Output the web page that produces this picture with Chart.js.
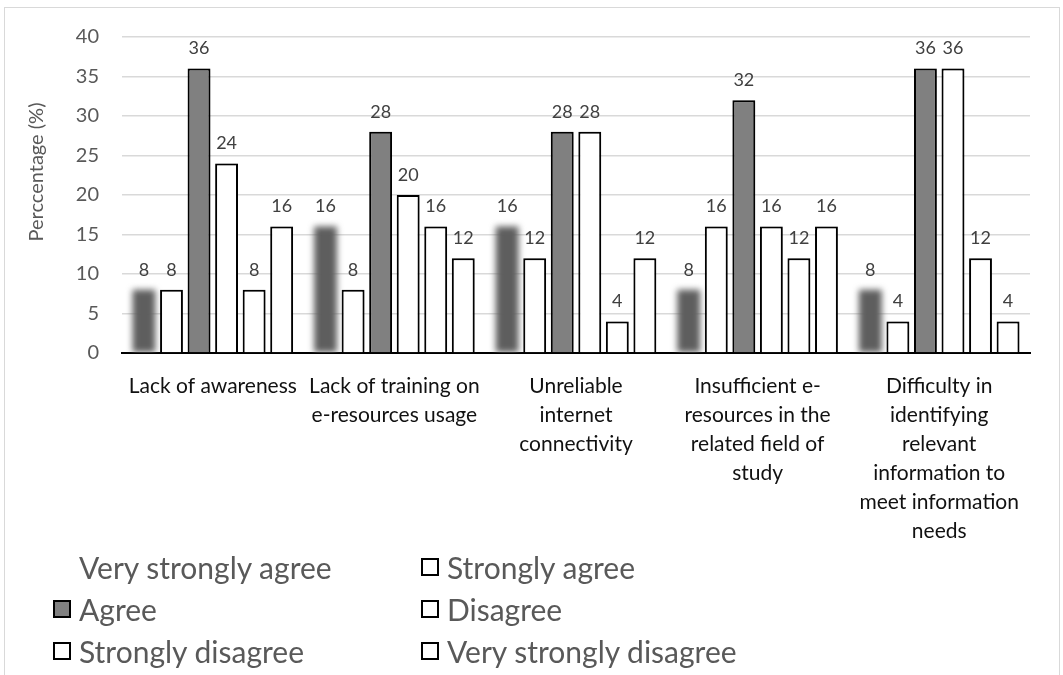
<!DOCTYPE html>
<html>
<head>
<meta charset="utf-8">
<script src="https://cdn.jsdelivr.net/npm/chart.js@4"></script>
<style>
  html, body { margin: 0; padding: 0; background: #fff; }
  #wrap { position: relative; width: 1063px; height: 675px; overflow: hidden; }
  #frame { position: absolute; left: 4px; top: 7px; width: 1054px; height: 700px;
           border: 1.5px solid #d9d9d9; pointer-events: none; }
  #legend { position: absolute; left: 53px; top: 546px; display: grid;
            grid-template-columns: 368px 380px;
            font-family: Lato, sans-serif; font-size: 30px; color: #595959; }
  .item { display: flex; align-items: center; height: 42px; white-space: nowrap; }
  .box { width: 14px; height: 14px; border: 2px solid #000; margin-right: 8px; box-sizing: content-box; }
</style>
</head>
<body>
<div id="wrap">
  <canvas id="barChart" width="1063" height="675"></canvas>
  <div id="legend"></div>
  <div id="frame"></div>
</div>
<script>
// Catégories et séries
const categories = [
  "Lack of awareness",
  ["Lack of training on", "e-resources usage"],
  ["Unreliable", "internet", "connectivity"],
  ["Insufficient e-", "resources in the", "related field of", "study"],
  ["Difficulty in", "identifying", "relevant", "information to", "meet information", "needs"]
];
const seriesNames = [
  "Very strongly agree", "Strongly agree", "Agree",
  "Disagree", "Strongly disagree", "Very strongly disagree"
];
const veryStronglyAgree = [8, 16, 16, 8, 8];
const stronglyAgree = [8, 8, 12, 16, 4];
const agree = [36, 28, 28, 32, 36];
const disagree = [24, 20, 28, 16, 36];
const stronglyDisagree = [8, 16, 4, 12, 12];
const veryStronglyDisagree = [16, 12, 12, 16, 4];
const yTicks = [0, 5, 10, 15, 20, 25, 30, 35, 40];
const yTitle = "Perccentage (%)";

const FONT = "Lato, sans-serif";
const fills = ["#5e5e5e", "#ffffff", "#808080", "#ffffff", "#ffffff", "#ffffff"];
const borders = [0, 2, 2, 2, 2, 2];

const allValues = [veryStronglyAgree, stronglyAgree, agree, disagree, stronglyDisagree, veryStronglyDisagree];

// Effet flou sur la première série, ombre légère sur les autres
const barEffects = {
  id: "barEffects",
  beforeDatasetDraw(chart, args) {
    const ctx = chart.ctx;
    ctx.save();
    if (args.index === 0) {
      ctx.filter = "blur(3px)";
    } else {
      ctx.shadowColor = "rgba(0,0,0,0.35)";
      ctx.shadowBlur = 5;
      ctx.shadowOffsetX = 1;
    }
  },
  afterDatasetDraw(chart) {
    chart.ctx.restore();
  }
};

// Étiquettes de valeurs au-dessus des barres + titre de l'axe Y
const valueLabels = {
  id: "valueLabels",
  afterDatasetsDraw(chart) {
    const ctx = chart.ctx;
    ctx.save();
    ctx.font = "18px " + FONT;
    ctx.fillStyle = "#404040";
    ctx.textAlign = "center";
    ctx.textBaseline = "bottom";
    chart.data.datasets.forEach((ds, i) => {
      chart.getDatasetMeta(i).data.forEach((bar, j) => {
        ctx.fillText(String(ds.data[j]), bar.x, bar.y - 11);
      });
    });
    ctx.restore();

    // titre vertical, un peu au-dessus du centre comme dans Excel
    const area = chart.chartArea;
    ctx.save();
    ctx.translate(37, (area.top + area.bottom) / 2 - 23);
    ctx.rotate(-Math.PI / 2);
    ctx.font = "20px " + FONT;
    ctx.fillStyle = "#595959";
    ctx.textAlign = "center";
    ctx.textBaseline = "middle";
    ctx.fillText(yTitle, 0, 0);
    ctx.restore();
  }
};

const chart = new Chart(document.getElementById("barChart"), {
  type: "bar",
  data: {
    labels: categories,
    datasets: seriesNames.map((name, i) => ({
      label: name,
      data: allValues[i],
      backgroundColor: fills[i],
      borderColor: "#000000",
      borderWidth: borders[i],
      borderSkipped: "bottom",
      categoryPercentage: 0.91,
      barPercentage: 0.83
    }))
  },
  options: {
    responsive: false,
    animation: false,
    layout: { padding: { left: 0, right: 33, top: 37, bottom: 0 } },
    plugins: { legend: { display: false }, tooltip: { enabled: false } },
    scales: {
      x: {
        grid: { display: false },
        border: { display: true, color: "#000000", width: 2 },
        ticks: {
          color: "#111111",
          font: { family: FONT, size: 21, lineHeight: 1.38 },
          padding: 11,
          maxRotation: 0,
          autoSkip: false
        },
        afterFit(scale) { scale.height = 322; }
      },
      y: {
        min: 0,
        max: 40,
        afterBuildTicks(scale) { scale.ticks = yTicks.map(v => ({ value: v })); },
        grid: { color: "#d9d9d9", lineWidth: 1.5, drawTicks: false },
        border: { display: false },
        ticks: { color: "#595959", font: { family: FONT, size: 20 }, padding: 23 },
        afterFit(scale) { scale.width = 122; }
      }
    }
  },
  plugins: [barEffects, valueLabels]
});

// Légende en deux colonnes sous le graphique
const legendDiv = document.getElementById("legend");
chart.data.datasets.forEach((ds, i) => {
  const item = document.createElement("div");
  item.className = "item";
  const box = document.createElement("span");
  box.className = "box";
  if (i === 0) {
    box.style.border = "2px solid transparent";
  } else {
    box.style.background = ds.backgroundColor;
  }
  const txt = document.createElement("span");
  txt.textContent = ds.label;
  item.appendChild(box);
  item.appendChild(txt);
  legendDiv.appendChild(item);
});
</script>
</body>
</html>
